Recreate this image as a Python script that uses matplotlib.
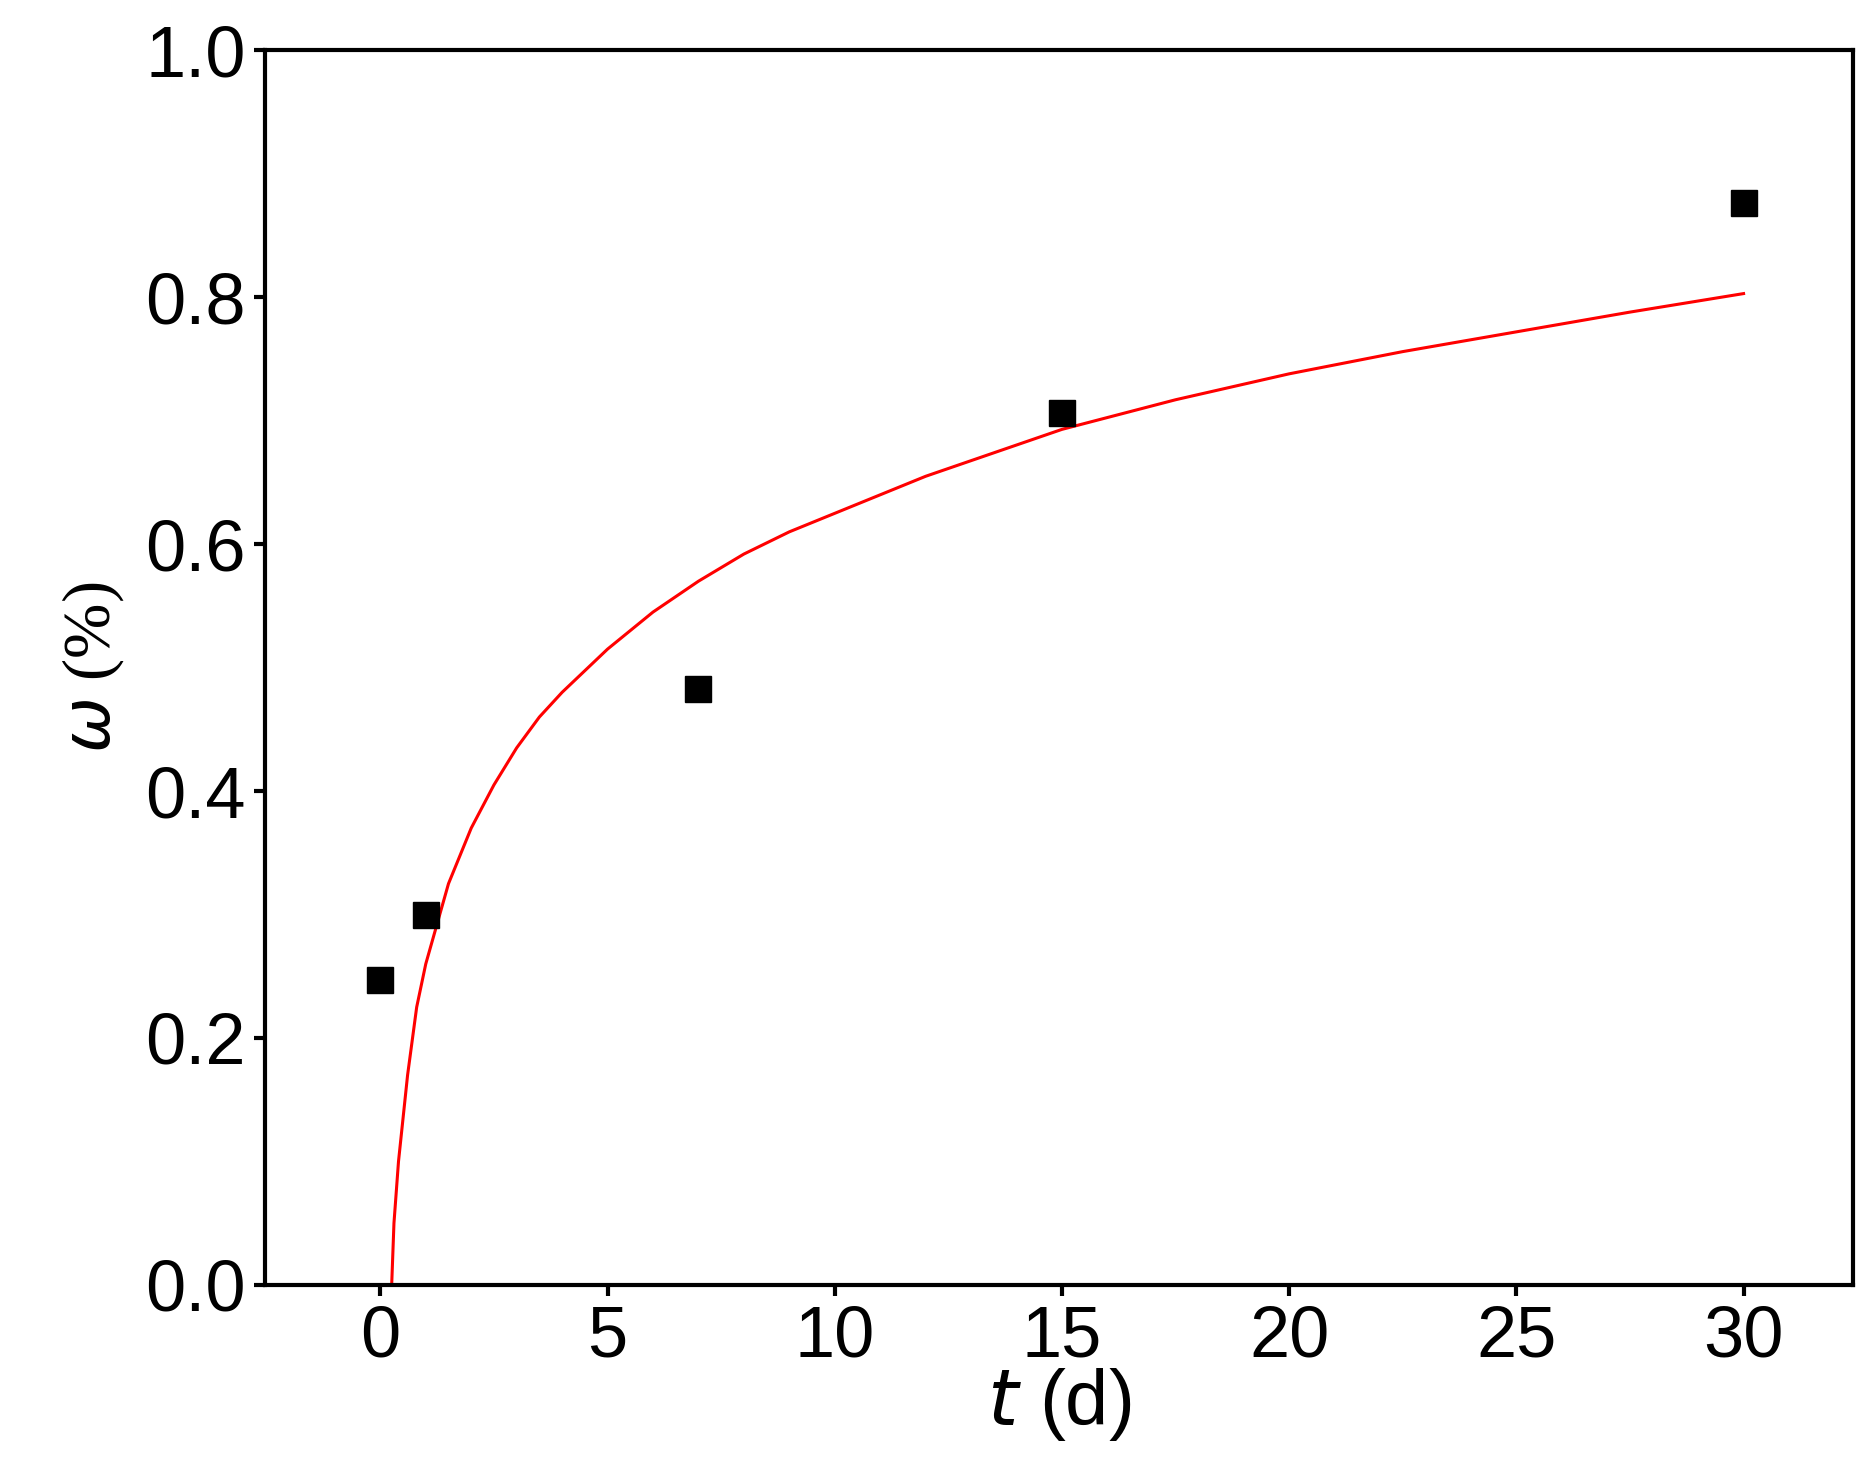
import matplotlib
matplotlib.use("Agg")
import matplotlib.pyplot as plt

t_data = [0, 1, 7, 15, 30]
w_data = [0.247, 0.300, 0.483, 0.706, 0.876]
t_fit = [0.25, 0.3, 0.4, 0.6, 0.8, 1, 1.5, 2, 2.5, 3, 3.5, 4, 5, 6, 7, 8, 9, 10, 12, 15, 17.5, 20, 22.5, 25, 27.5, 30]
w_fit = [0.0, 0.05, 0.10, 0.17, 0.225, 0.26, 0.325, 0.37, 0.405, 0.435, 0.46, 0.48, 0.515, 0.545, 0.57, 0.592, 0.61, 0.625, 0.655, 0.693, 0.717, 0.738, 0.756, 0.772, 0.788, 0.803]
xticks = [0, 5, 10, 15, 20, 25, 30]
yticks = [0.0, 0.2, 0.4, 0.6, 0.8, 1.0]

fig = plt.figure(figsize=(18.74, 14.82), dpi=100)
ax = fig.add_axes([0.1416, 0.133, 0.847, 0.833])
ax.plot(t_fit, w_fit, color="red", lw=2.2)
ax.plot(t_data, w_data, "s", color="black", ms=19)
ax.set_xlim(-2.53, 32.4)
ax.set_ylim(0, 1.0)
ax.set_xticks(xticks)
ax.set_yticks(yticks)
ax.set_yticklabels([f"{v:.1f}" for v in yticks])
for s in ax.spines.values():
    s.set_linewidth(3)
ax.tick_params(direction="out", length=8, width=3, labelsize=52, pad=6)
for lab in ax.get_xticklabels() + ax.get_yticklabels():
    lab.set_family("Liberation Sans")
ax.set_xlabel(r"$\it{t}$ (d)", fontsize=56, family="Liberation Sans", labelpad=-4)
ax.set_ylabel(r"$\omega$ (%)", fontsize=48, family="Liberation Serif", labelpad=14)
fig.savefig("out.png", dpi=100)
